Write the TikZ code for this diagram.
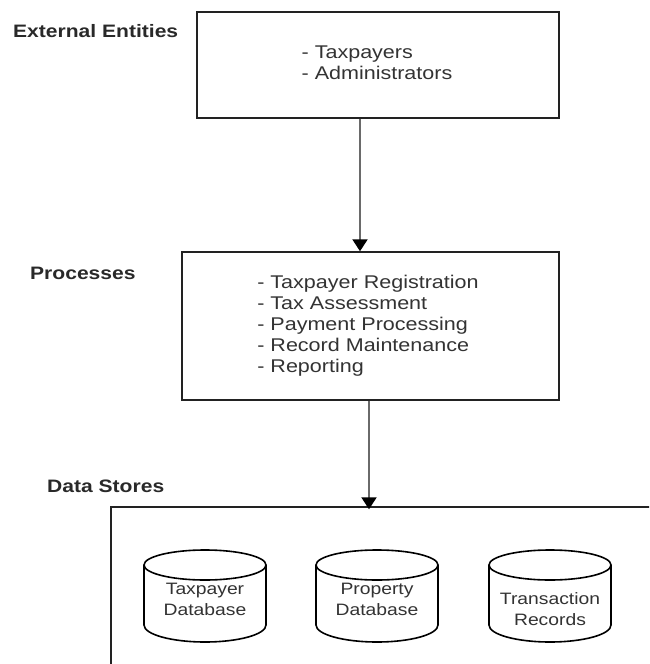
\documentclass[tikz,border=0pt]{standalone}
\usepackage{fontspec}
\setmainfont{Liberation Sans}[FakeStretch=1.17]
\usetikzlibrary{arrows.meta}
\definecolor{txt}{HTML}{333333}
\definecolor{edge}{HTML}{222222}
\definecolor{conn}{HTML}{6a6a6a}
\tikzset{
  box/.style={draw=edge, line width=1.4pt, inner sep=0pt, fill=white},
  body/.style={text=txt, align=left, font=\fontsize{18.4}{21}\selectfont, inner sep=0pt},
  heading/.style={text=txt!80!black, font=\fontsize{18}{21}\selectfont\bfseries, inner sep=0pt, anchor=west},
  conn/.style={draw=conn, line width=2pt, -{Triangle[length=12pt,width=15pt,fill=black,color=black]}},
  dbtext/.style={text=txt, align=center, font=\fontsize{16.5}{21}\selectfont, inner sep=0pt},
  dbline/.style={draw=black, line width=1.6pt},
}
\begin{document}
\begin{tikzpicture}[x=1pt,y=-1pt]
\useasboundingbox (0,0) rectangle (649,664);
\clip (0,0) rectangle (649,664);

% headings
\node[heading] (hext) at (13,31) {External Entities};
\node[heading] (hproc) at (30,273) {Processes};
\node[heading] (hdata) at (47,486) {Data Stores};

% boxes
\node[box, minimum width=362pt, minimum height=106pt] (ext) at (378,65) {};
\node[body] (exttext) at (377,63) {- Taxpayers\\- Administrators};

\node[box, minimum width=377pt, minimum height=148pt] (proc) at (370.5,326) {};
\node[body] (proctext) at (368,326) {- Taxpayer Registration\\- Tax Assessment\\- Payment Processing\\- Record Maintenance\\- Reporting};

\node[box, minimum width=600pt, minimum height=220pt] (data) at (411,617) {};

% connectors
\coordinate (a1s) at ([xshift=-18pt]ext.south);
\coordinate (a1e) at (a1s |- proc.north);
\draw[conn] (a1s) -- (a1e);
\coordinate (a2s) at ([xshift=-1.5pt]proc.south);
\coordinate (a2e) at (a2s |- data.north);
\draw[conn] (a2s) -- ([yshift=-3pt]a2e);

% cylinders
\foreach \cx in {205,377,550}{
  \fill[white] (\cx-61,565) -- (\cx-61,625) arc[start angle=180, end angle=0, x radius=61, y radius=17] -- (\cx+61,565) -- cycle;
  \draw[dbline] (\cx-61,565) -- (\cx-61,625) arc[start angle=180, end angle=0, x radius=61, y radius=17] -- (\cx+61,565);
}
\node[dbtext] (tA) at (205,599) {Taxpayer\\Database};
\node[dbtext] (tB) at (377,599) {Property\\Database};
\node[dbtext] (tC) at (550,609) {Transaction\\Records};
\foreach \cx in {205,377,550}{
  \draw[dbline, fill=white] (\cx,565) ellipse[x radius=61, y radius=15];
}
\end{tikzpicture}
\end{document}
